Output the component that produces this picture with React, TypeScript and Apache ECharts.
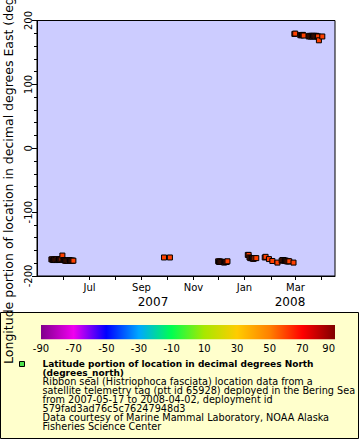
import React, { useEffect, useRef } from "react";
import * as echarts from "echarts";

// ---- data ----
const obsDates: string[] = [
  "2007-05-18", "2007-05-19", "2007-05-20", "2007-05-21", "2007-05-22", "2007-05-23", "2007-05-24",
  "2007-05-25", "2007-05-26", "2007-05-27", "2007-05-28", "2007-05-29", "2007-05-30", "2007-05-31",
  "2007-06-01", "2007-06-02", "2007-06-03", "2007-06-04", "2007-06-05", "2007-06-06", "2007-06-07",
  "2007-06-08", "2007-06-09", "2007-06-10", "2007-06-11", "2007-06-12", "2007-06-13",
  "2007-09-28", "2007-10-05",
  "2007-12-01", "2007-12-02", "2007-12-03", "2007-12-04", "2007-12-05", "2007-12-06", "2007-12-07",
  "2007-12-08", "2007-12-09", "2007-12-10", "2007-12-11", "2007-12-12",
  "2008-01-05", "2008-01-06", "2008-01-07", "2008-01-08", "2008-01-09", "2008-01-10", "2008-01-11",
  "2008-01-12", "2008-01-13", "2008-01-15",
  "2008-01-25", "2008-01-26", "2008-01-30", "2008-02-03", "2008-02-09",
  "2008-02-14", "2008-02-15", "2008-02-16", "2008-02-17", "2008-02-18", "2008-02-19", "2008-02-20",
  "2008-02-21", "2008-02-22", "2008-02-23", "2008-02-28",
  "2008-02-29", "2008-03-01", "2008-03-07", "2008-03-08", "2008-03-09", "2008-03-10", "2008-03-11",
  "2008-03-17", "2008-03-18", "2008-03-19", "2008-03-20", "2008-03-21", "2008-03-22", "2008-03-23",
  "2008-03-24", "2008-03-25", "2008-03-26", "2008-03-27", "2008-03-28", "2008-03-29", "2008-04-02",
];
const obsLongitude: number[] = [
  -174, -174, -175, -174, -174, -175, -174,
  -174, -175, -174, -174, -174, -173, -168,
  -175, -175, -176, -176, -176, -176, -176,
  -175, -176, -176, -176, -176, -176,
  -171, -171,
  -177, -178, -177, -178, -178, -178, -178,
  -179, -178, -178, -178, -177,
  -167, -167, -171, -172, -172, -172, -173,
  -173, -172, -172,
  -171, -170, -173.5, -176.5, -179,
  -176, -175, -175, -176, -176, -176, -177,
  -177, -177, -177, -179,
  179, 179.5, 177, 177, 177, 177.5, 176.5,
  175, 176, 175, 176, 175, 176, 175,
  176, 175, 176, 175, 175, 169, 175,
];

const monthTicks: string[] = [
  "2007-06-01", "2007-07-01", "2007-08-01", "2007-09-01", "2007-10-01", "2007-11-01",
  "2007-12-01", "2008-01-01", "2008-02-01", "2008-03-01", "2008-04-01",
];
const monthLabels: string[] = ["", "Jul", "", "Sep", "", "Nov", "", "Jan", "", "Mar", ""];
const yearLabels: string[] = ["2007", "2008"];

const colorbarTicks: number[] = [-90, -70, -50, -30, -10, 10, 30, 50, 70, 90];

const yAxisTitle = "Longitude portion of location in decimal degrees East (degrees_east)";
const legendTitle: string[] = [
  "Latitude portion of location in decimal degrees North",
  "(degrees_north)",
];
const legendBody: string[] = [
  "Ribbon seal (Histriophoca fasciata) location data from a",
  "satellite telemetry tag (ptt id 65928) deployed in the Bering Sea",
  "from 2007-05-17 to 2008-04-02, deployment id",
  "579fad3ad76c5c76247948d3",
  "Data courtesy of Marine Mammal Laboratory, NOAA Alaska",
  "Fisheries Science Center",
];

const ts = (s: string) => {
  const [y, m, d] = s.split("-").map(Number);
  return Date.UTC(y, m - 1, d, 12);
};

const FONT = "DejaVu Sans";

export default function App() {
  const ref = useRef<HTMLDivElement>(null);

  useEffect(() => {
    if (!ref.current) return;
    const chart = echarts.init(ref.current, undefined, { renderer: "svg" });

    const barX = 41, barW = 294, barY = 325, barH = 14.3;
    const graphics: any[] = [
      {
        type: "rect",
        z: -10,
        shape: { x: 0.5, y: 312.5, width: 358, height: 126 },
        style: { fill: "#ffffcc", stroke: "#000", lineWidth: 1 },
      },
      {
        type: "rect",
        shape: { x: barX, y: barY, width: barW, height: barH },
        style: {
          fill: new echarts.graphic.LinearGradient(0, 0, 1, 0, [
            { offset: 0, color: "#80008c" },
            { offset: 0.111, color: "#f000f0" },
            { offset: 0.222, color: "#0000ff" },
            { offset: 0.333, color: "#00a8ff" },
            { offset: 0.444, color: "#00ff50" },
            { offset: 0.555, color: "#a8e800" },
            { offset: 0.667, color: "#ffcc00" },
            { offset: 0.778, color: "#ff8000" },
            { offset: 0.889, color: "#ff0000" },
            { offset: 1, color: "#800000" },
          ]),
        },
      },
      ...colorbarTicks.map((v, i) => ({
        type: "text",
        x: i === colorbarTicks.length - 1 ? barX + barW : barX + ((v + 90) / 180) * barW,
        y: 348,
        style: {
          text: String(v),
          fontFamily: FONT,
          fontSize: 10,
          fill: "#000",
          textAlign: i === colorbarTicks.length - 1 ? "right" : "center",
          textVerticalAlign: "middle",
        },
      })),
      {
        type: "rect",
        shape: { x: 19.5, y: 361.5, width: 5, height: 5 },
        style: { fill: "#4de24d", stroke: "#000", lineWidth: 1 },
      },
      ...legendTitle.map((t, i) => ({
        type: "text",
        x: 42.5,
        y: 363.5 + i * 9.05,
        style: {
          text: t,
          fontFamily: FONT,
          fontSize: 9,
          fontWeight: "bold",
          fill: "#000",
          textAlign: "left",
          textVerticalAlign: "middle",
        },
      })),
      ...legendBody.map((t, i) => ({
        type: "text",
        x: 42.5,
        y: 363.5 + (i + 2) * 9.05,
        style: {
          text: t,
          fontFamily: FONT,
          fontSize: 9.7,
          fill: "#000",
          textAlign: "left",
          textVerticalAlign: "middle",
        },
      })),
      ...yearLabels.map((t, i) => ({
        type: "text",
        x: i === 0 ? 153 : 290,
        y: 302,
        style: {
          text: t,
          fontFamily: FONT,
          fontSize: 12,
          fill: "#000",
          textAlign: "center",
          textVerticalAlign: "middle",
        },
      })),
    ];

    chart.setOption({
      animation: false,
      textStyle: { fontFamily: FONT },
      grid: {
        left: 37,
        right: 25,
        top: 20.5,
        bottom: 164,
        show: true,
        outerBoundsMode: "none",
        containLabel: false,
        backgroundColor: "#ccccff",
        borderColor: "#000",
        borderWidth: 1,
      },
      xAxis: {
        type: "time",
        min: Date.UTC(2007, 4, 1, 12),
        max: Date.UTC(2008, 3, 17, 12),
        axisLine: { show: true, onZero: false, lineStyle: { color: "#000", width: 1 } },
        axisTick: { show: false },
        axisLabel: { show: false },
        splitLine: { show: false },
      },
      yAxis: {
        type: "value",
        min: -200,
        max: 200,
        interval: 100,
        name: yAxisTitle,
        nameLocation: "middle",
        nameRotate: 90,
        nameGap: 16,
        nameTextStyle: { fontFamily: FONT, fontSize: 12.5, color: "#000" },
        axisLine: { show: true, onZero: false, lineStyle: { color: "#000", width: 1 } },
        axisTick: { show: true, length: 5, lineStyle: { color: "#000" } },
        minorTick: { show: true, splitNumber: 5, length: 3, lineStyle: { color: "#000" } },
        axisLabel: { rotate: 90, margin: 4, fontSize: 10, color: "#000", fontFamily: FONT },
        splitLine: { show: false },
      },
      series: [
        {
          type: "custom",
          clip: false,
          silent: true,
          data: monthTicks.map((d, i) => [ts(d), -200, i]),
          encode: { x: 0, y: 1 },
          renderItem: (params: any, api: any) => {
            const x = Math.round(api.coord([api.value(0), -200])[0]) + 0.5;
            const cs = params.coordSys;
            const bottom = cs.y + cs.height;
            const idx = api.value(2);
            const children: any[] = [
              {
                type: "line",
                shape: { x1: x, y1: bottom, x2: x, y2: bottom + 4 },
                style: { stroke: "#000", lineWidth: 1 },
              },
            ];
            const lbl = monthLabels[idx];
            if (lbl) {
              children.push({
                type: "text",
                x: x,
                y: bottom + 11,
                style: {
                  text: lbl,
                  fontFamily: FONT,
                  fontSize: 10,
                  fill: "#000",
                  textAlign: "center",
                  textVerticalAlign: "middle",
                },
              });
            }
            return { type: "group", children };
          },
        },
        {
          type: "scatter",
          symbol: "rect",
          symbolSize: 5,
          data: obsDates.map((d, i) => [ts(d), obsLongitude[i]]),
          itemStyle: { color: "#ff4000", borderColor: "#000", borderWidth: 1, opacity: 1 },
          emphasis: { disabled: true },
        },
      ],
      graphic: { elements: graphics },
    });

    return () => chart.dispose();
  }, []);

  return (
    <div
      ref={ref}
      style={{ position: "absolute", left: 0, top: 0, width: 360, height: 440 }}
    />
  );
}
